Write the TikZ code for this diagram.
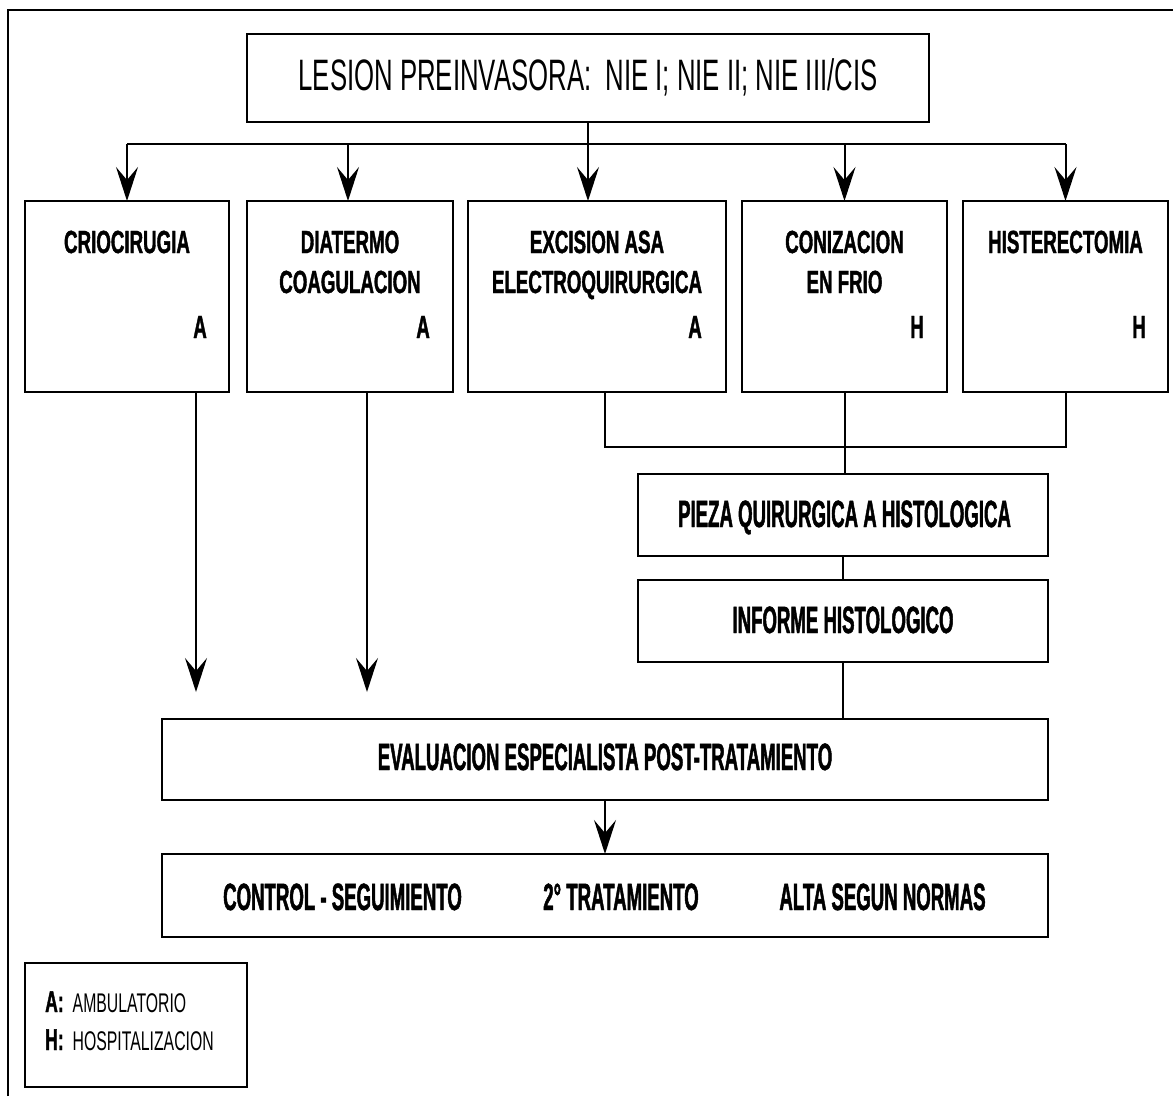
\documentclass[tikz,border=0pt]{standalone}
\usepackage{fontspec}
\setmainfont{Liberation Sans}
\newfontfamily\narrowA[FakeStretch=0.585, BoldFeatures={FakeBold=1.2}]{Liberation Sans}
\newfontfamily\narrowB[FakeStretch=0.49, BoldFeatures={FakeBold=1.2}]{Liberation Sans}
\usetikzlibrary{arrows.meta}

\tikzset{
  box/.style={draw, line width=2.6pt, rectangle, inner sep=0pt, outer sep=0pt},
  wire/.style={line width=2pt},
  arr/.style={wire, -{Stealth[length=34pt,width=22pt,inset=13pt]}},
  headtxt/.style={font=\narrowA\fontsize{44}{50}\selectfont, anchor=base, inner sep=0pt},
  rowtxt/.style={font=\narrowA\bfseries\fontsize{32}{38}\selectfont, anchor=base, inner sep=0pt},
  tagtxt/.style={rowtxt, anchor=base east},
  midtxt/.style={font=\narrowB\bfseries\fontsize{38}{44}\selectfont, anchor=base, inner sep=0pt},
  keytxt/.style={anchor=base west, inner sep=0pt},
}

\begin{document}
\begin{tikzpicture}[x=1pt, y=-1pt]
\useasboundingbox (0,0) rectangle (1173,1096);

% outer frame (left and top edges)
\draw[line width=2.6pt] (8,1096) -- (8,10) -- (1173,10);

% boxes
\node[box, minimum width=682pt, minimum height=88pt] (top) at (588,78) {};
\node[box, minimum width=204pt, minimum height=191pt] (crio) at (127,296.5) {};
\node[box, minimum width=206pt, minimum height=191pt] (dia) at (350,296.5) {};
\node[box, minimum width=258pt, minimum height=191pt] (exc) at (597,296.5) {};
\node[box, minimum width=205pt, minimum height=191pt] (con) at (844.5,296.5) {};
\node[box, minimum width=205pt, minimum height=191pt] (his) at (1065.5,296.5) {};
\node[box, minimum width=410pt, minimum height=82pt] (pieza) at (843,515) {};
\node[box, minimum width=410pt, minimum height=82pt] (inf) at (843,621) {};
\node[box, minimum width=886pt, minimum height=81pt] (eval) at (605,759.5) {};
\node[box, minimum width=886pt, minimum height=83pt] (ctrl) at (605,895.5) {};
\node[box, minimum width=222pt, minimum height=124pt] (key) at (136,1025) {};

% texts
\node[headtxt] (topT) at (588,90) {LESION PREINVASORA:\ \ NIE I; NIE II; NIE III/CIS};

\node[rowtxt] (crioT) at (127,253) {CRIOCIRUGIA};
\node[tagtxt] (crioA) at (207,338) {A};

\node[rowtxt] (diaT1) at (350,253) {DIATERMO};
\node[rowtxt] (diaT2) at (350,293) {COAGULACION};
\node[tagtxt] (diaA) at (430,338) {A};

\node[rowtxt] (excT1) at (597,253) {EXCISION ASA};
\node[rowtxt] (excT2) at (597,293) {ELECTROQUIRURGICA};
\node[tagtxt] (excA) at (702,338) {A};

\node[rowtxt] (conT1) at (844.5,253) {CONIZACION};
\node[rowtxt] (conT2) at (844.5,293) {EN FRIO};
\node[tagtxt] (conH) at (924,338) {H};

\node[rowtxt] (hisT) at (1065.5,253) {HISTERECTOMIA};
\node[tagtxt] (hisH) at (1146,338) {H};

\node[midtxt] (piezaT) at (844.5,527) {PIEZA QUIRURGICA A HISTOLOGICA};
\node[midtxt] (infT) at (843,633) {INFORME HISTOLOGICO};
\node[midtxt] (evalT) at (605,770) {EVALUACION ESPECIALISTA POST-TRATAMIENTO};
\node[midtxt] (ctrlT1) at (342.5,910) {CONTROL - SEGUIMIENTO};
\node[midtxt] (ctrlT2) at (621,910) {2° TRATAMIENTO};
\node[midtxt] (ctrlT3) at (882.5,910) {ALTA SEGUN NORMAS};

\node[keytxt] (keyA) at (45,1012) {{\narrowA\bfseries\fontsize{30}{34}\selectfont A:}\hspace{9pt}{\narrowA\fontsize{27}{30}\selectfont AMBULATORIO}};
\node[keytxt] (keyH) at (45,1050) {{\narrowA\bfseries\fontsize{30}{34}\selectfont H:}\hspace{9pt}{\narrowA\fontsize{27}{30}\selectfont HOSPITALIZACION}};

% distribution from the top box
\coordinate (bus) at (588,144);
\draw[wire] (crio.north |- bus) -- (his.north |- bus);
\draw[arr] (top.south) -- (top.south |- exc.north);
\draw[arr] (crio.north |- bus) -- (crio.north);
\draw[arr] ([xshift=-2pt]dia.north |- bus) -- ([xshift=-2pt]dia.north);
\draw[arr] (con.north |- bus) -- (con.north);
\draw[arr] (his.north |- bus) -- (his.north);

% collection of surgical treatments
\coordinate (join) at (844.5,447);
\draw[wire] ([xshift=8pt]exc.south) |- (join) -| (his.south);
\draw[wire] (con.south) -- (con.south |- pieza.north);
\draw[wire] (pieza.south) -- (inf.north);
\draw[wire] (inf.south) -- (inf.south |- eval.north);

% ambulatory treatments to evaluation
\coordinate (crioEnd) at (196,692);
\coordinate (diaEnd) at (367,692);
\draw[arr] (crio.south -| crioEnd) -- (crioEnd);
\draw[arr] (dia.south -| diaEnd) -- (diaEnd);

% evaluation to outcome
\draw[arr] (eval.south) -- (ctrl.north);
\end{tikzpicture}
\end{document}
